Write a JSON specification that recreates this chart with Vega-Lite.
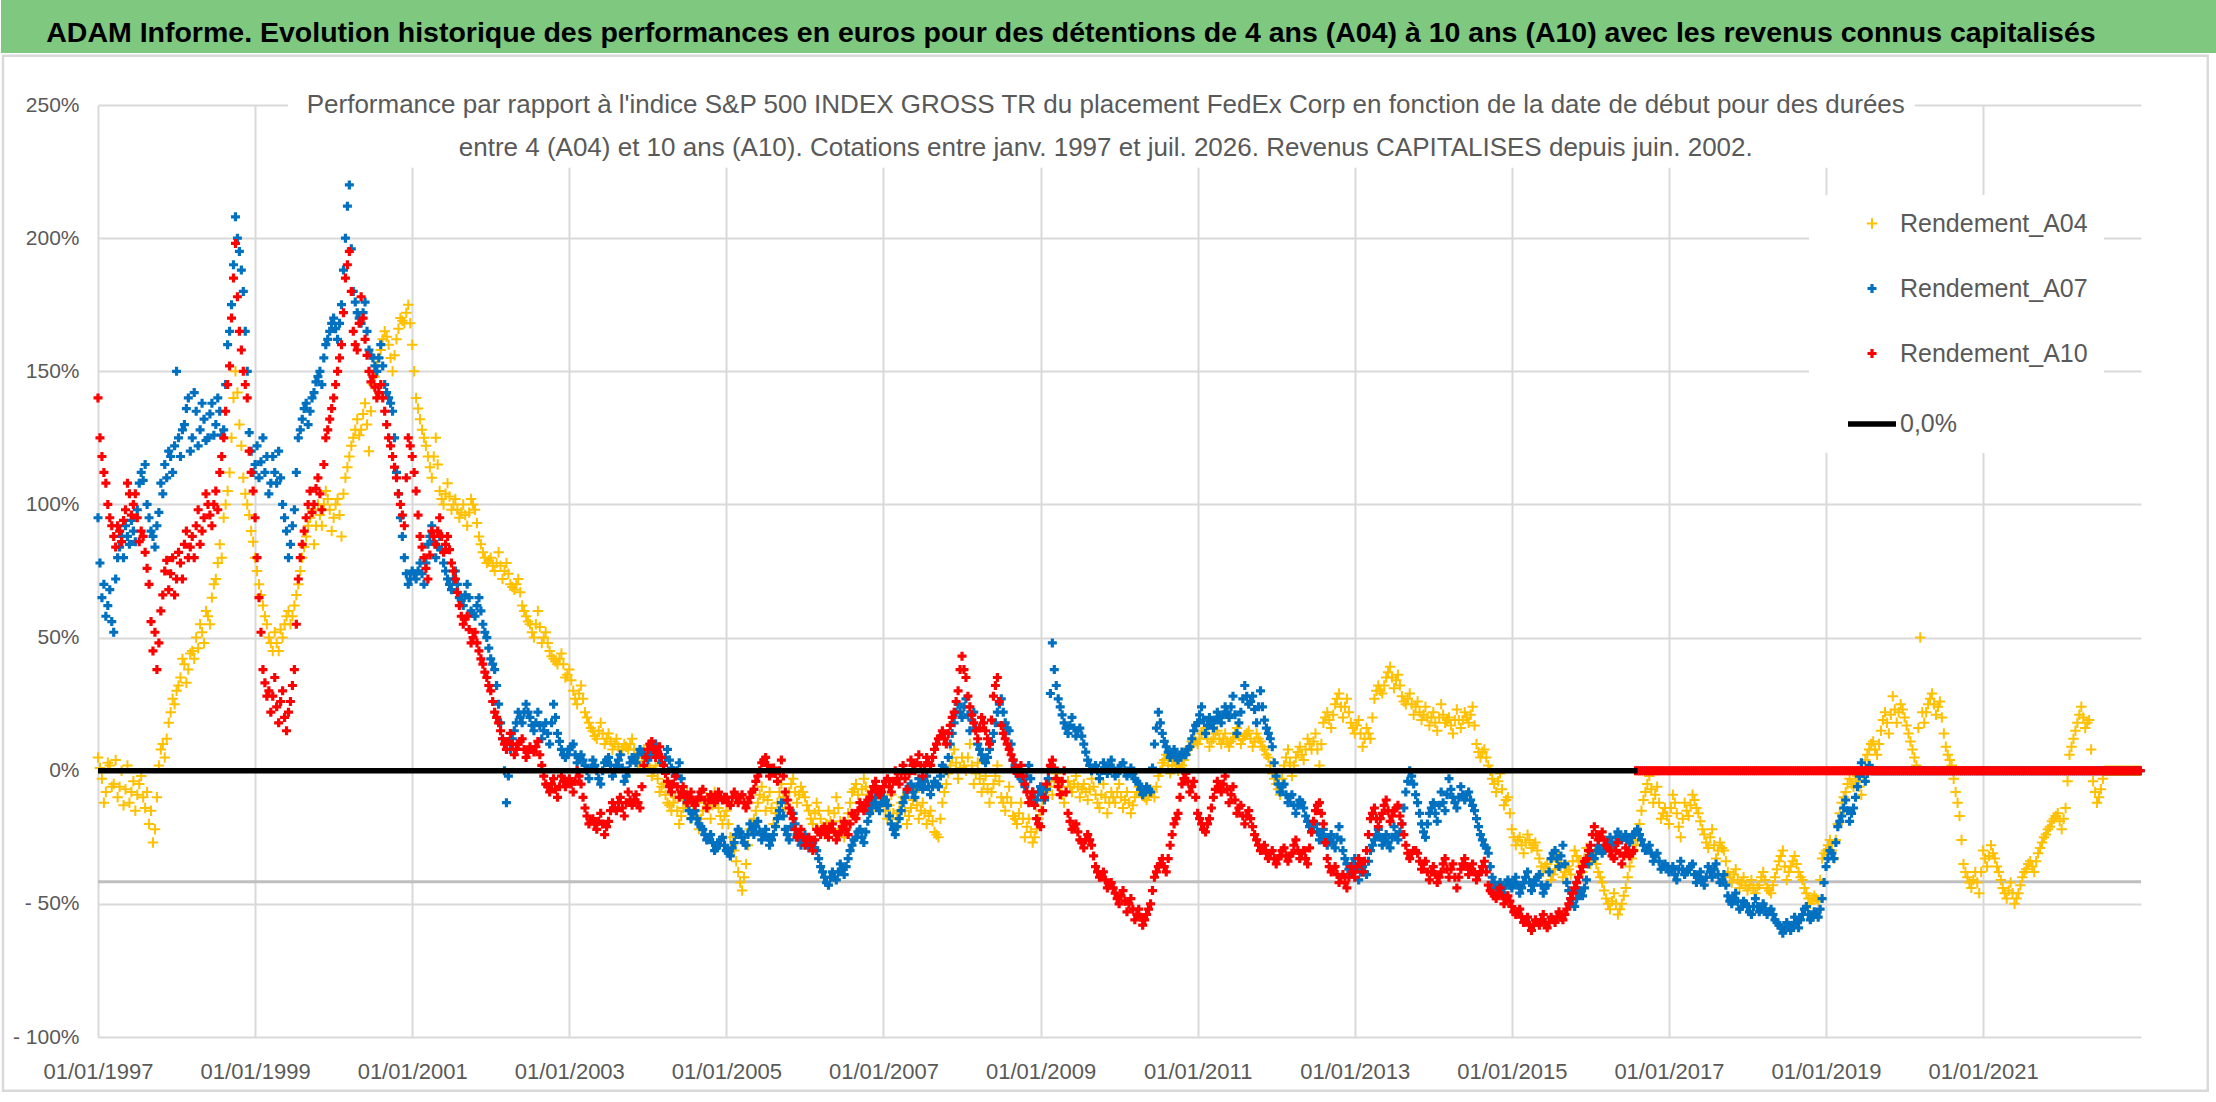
{
  "$schema": "https://vega.github.io/schema/vega-lite/v6.json",
  "width": 2043,
  "height": 932,
  "padding": {"left": 0, "top": 0, "right": 0, "bottom": 9},
  "autosize": {"type": "pad"},
  "background": "#FFFFFF",
  "config": {"view": {"stroke": null}, "font": "Liberation Sans"},
  "layer": [
    {
      "data": {"values": [{}]},
      "mark": {"type": "rect", "fillOpacity": 0, "stroke": "#D9D9D9", "strokeWidth": 2.5},
      "encoding": {
        "x": {"datum": 1995.79, "type": "quantitative"},
        "x2": {"datum": 2023.86},
        "y": {"datum": 268.5, "type": "quantitative"},
        "y2": {"datum": -120.2}
      }
    },
    {
      "data": {"values": [{}]},
      "mark": {"type": "rect", "fill": "#7FC87F"},
      "encoding": {
        "x": {"datum": 1995.765, "type": "quantitative"},
        "x2": {"datum": 2023.98},
        "y": {"datum": 289.43, "type": "quantitative"},
        "y2": {"datum": 269.53}
      }
    },
    {
      "data": {"values": [{}]},
      "mark": {"type": "rect", "fill": "#FFFFFF"},
      "encoding": {
        "x": {"datum": 1999.42, "type": "quantitative"},
        "x2": {"datum": 2020.13},
        "y": {"datum": 258, "type": "quantitative"},
        "y2": {"datum": 226.4}
      }
    },
    {
      "data": {"values": [{}]},
      "mark": {"type": "rule", "color": "#BFBFBF", "strokeWidth": 3},
      "encoding": {"y": {"datum": -41.7, "type": "quantitative"}}
    },
    {
      "data": {
        "values": [
          {"t":1997,"a":5,"b":95,"c":140},{"t":1997.025,"a":1,"b":78,"c":125},
          {"t":1997.05,"a":-3,"b":65,"c":118},{"t":1997.075,"a":-12,"b":70,"c":112},
          {"t":1997.1,"a":-8,"b":58,"c":108},{"t":1997.125,"a":3,"b":62,"c":100},
          {"t":1997.15,"a":2,"b":68,"c":95},{"t":1997.175,"a":-6,"b":56,"c":92},
          {"t":1997.2,"a":-5,"b":52,"c":88},{"t":1997.225,"a":4,"b":72,"c":84},
          {"t":1997.25,"a":-10,"b":80,"c":92},{"t":1997.275,"a":-6,"b":84,"c":90},
          {"t":1997.3,"a":0,"b":88,"c":86},{"t":1997.325,"a":-13,"b":80,"c":94},
          {"t":1997.35,"a":-7,"b":92,"c":98},{"t":1997.375,"a":2,"b":88,"c":108},
          {"t":1997.4,"a":-12,"b":85,"c":104},{"t":1997.425,"a":-8,"b":94,"c":96},
          {"t":1997.45,"a":-4,"b":90,"c":100},{"t":1997.475,"a":-15,"b":86,"c":104},
          {"t":1997.5,"a":-9,"b":98,"c":95},{"t":1997.525,"a":-5,"b":108,"c":86},
          {"t":1997.55,"a":-2,"b":112,"c":90},{"t":1997.575,"a":-10,"b":109,"c":88},
          {"t":1997.6,"a":-14,"b":115,"c":82},{"t":1997.625,"a":-8,"b":100,"c":76},
          {"t":1997.65,"a":-20,"b":95,"c":70},{"t":1997.675,"a":-15,"b":90,"c":56},
          {"t":1997.7,"a":-27,"b":88,"c":45},{"t":1997.725,"a":-22,"b":84,"c":52},
          {"t":1997.75,"a":-10,"b":92,"c":38},{"t":1997.775,"a":2,"b":97,"c":48},
          {"t":1997.8,"a":8,"b":108,"c":60},{"t":1997.825,"a":10,"b":104,"c":66},
          {"t":1997.85,"a":5,"b":115,"c":75},{"t":1997.875,"a":12,"b":110,"c":79},
          {"t":1997.9,"a":18,"b":120,"c":68},{"t":1997.925,"a":22,"b":118,"c":74},
          {"t":1997.95,"a":27,"b":112,"c":80},{"t":1997.975,"a":25,"b":122,"c":66},
          {"t":1998,"a":30,"b":150,"c":72},{"t":1998.025,"a":32,"b":125,"c":82},
          {"t":1998.05,"a":35,"b":118,"c":78},{"t":1998.075,"a":42,"b":128,"c":72},
          {"t":1998.1,"a":40,"b":130,"c":85},{"t":1998.125,"a":33,"b":136,"c":90},
          {"t":1998.15,"a":38,"b":140,"c":80},{"t":1998.175,"a":44,"b":120,"c":84},
          {"t":1998.2,"a":45,"b":125,"c":88},{"t":1998.225,"a":42,"b":142,"c":80},
          {"t":1998.25,"a":50,"b":135,"c":92},{"t":1998.275,"a":46,"b":122,"c":98},
          {"t":1998.3,"a":55,"b":128,"c":85},{"t":1998.325,"a":52,"b":138,"c":90},
          {"t":1998.35,"a":48,"b":132,"c":95},{"t":1998.375,"a":60,"b":124,"c":104},
          {"t":1998.4,"a":58,"b":125,"c":100},{"t":1998.425,"a":55,"b":134,"c":96},
          {"t":1998.45,"a":65,"b":138,"c":92},{"t":1998.475,"a":70,"b":126,"c":100},
          {"t":1998.5,"a":72,"b":130,"c":105},{"t":1998.525,"a":78,"b":140,"c":98},
          {"t":1998.55,"a":85,"b":135,"c":112},{"t":1998.575,"a":80,"b":126,"c":118},
          {"t":1998.6,"a":95,"b":128,"c":125},{"t":1998.625,"a":100,"b":145,"c":135},
          {"t":1998.65,"a":105,"b":160,"c":145},{"t":1998.675,"a":112,"b":165,"c":152},
          {"t":1998.7,"a":125,"b":175,"c":170},{"t":1998.725,"a":140,"b":190,"c":185},
          {"t":1998.75,"a":150,"b":208,"c":198},{"t":1998.775,"a":142,"b":200,"c":178},
          {"t":1998.8,"a":130,"b":195,"c":165},{"t":1998.825,"a":122,"b":188,"c":158},
          {"t":1998.85,"a":110,"b":180,"c":150},{"t":1998.875,"a":104,"b":165,"c":145},
          {"t":1998.9,"a":100,"b":150,"c":140},{"t":1998.925,"a":96,"b":127,"c":120},
          {"t":1998.95,"a":90,"b":120,"c":112},{"t":1998.975,"a":86,"b":112,"c":105},
          {"t":1999,"a":80,"b":115,"c":95},{"t":1999.025,"a":75,"b":122,"c":80},
          {"t":1999.05,"a":70,"b":110,"c":65},{"t":1999.075,"a":66,"b":116,"c":52},
          {"t":1999.1,"a":62,"b":125,"c":38},{"t":1999.125,"a":58,"b":112,"c":33},
          {"t":1999.15,"a":55,"b":118,"c":28},{"t":1999.175,"a":50,"b":104,"c":30},
          {"t":1999.2,"a":48,"b":108,"c":22},{"t":1999.225,"a":45,"b":118,"c":28},
          {"t":1999.25,"a":52,"b":112,"c":35},{"t":1999.275,"a":48,"b":108,"c":24},
          {"t":1999.3,"a":45,"b":120,"c":18},{"t":1999.325,"a":53,"b":110,"c":26},
          {"t":1999.35,"a":50,"b":100,"c":30},{"t":1999.375,"a":55,"b":95,"c":20},
          {"t":1999.4,"a":58,"b":90,"c":15},{"t":1999.425,"a":60,"b":80,"c":22},
          {"t":1999.45,"a":55,"b":85,"c":26},{"t":1999.475,"a":58,"b":92,"c":32},
          {"t":1999.5,"a":62,"b":98,"c":38},{"t":1999.525,"a":66,"b":112,"c":55},
          {"t":1999.55,"a":70,"b":125,"c":72},{"t":1999.575,"a":75,"b":128,"c":80},
          {"t":1999.6,"a":80,"b":132,"c":85},{"t":1999.625,"a":84,"b":136,"c":90},
          {"t":1999.65,"a":88,"b":138,"c":95},{"t":1999.675,"a":92,"b":130,"c":100},
          {"t":1999.7,"a":95,"b":135,"c":105},{"t":1999.725,"a":98,"b":140,"c":97},
          {"t":1999.75,"a":85,"b":142,"c":100},{"t":1999.775,"a":92,"b":146,"c":106},
          {"t":1999.8,"a":100,"b":148,"c":110},{"t":1999.825,"a":96,"b":150,"c":104},
          {"t":1999.85,"a":92,"b":145,"c":98},{"t":1999.875,"a":100,"b":155,"c":115},
          {"t":1999.9,"a":105,"b":160,"c":125},{"t":1999.925,"a":102,"b":162,"c":128},
          {"t":1999.95,"a":98,"b":165,"c":132},{"t":1999.975,"a":90,"b":168,"c":136},
          {"t":2000,"a":95,"b":170,"c":140},{"t":2000.025,"a":100,"b":166,"c":145},
          {"t":2000.05,"a":102,"b":162,"c":150},{"t":2000.075,"a":96,"b":168,"c":155},
          {"t":2000.1,"a":88,"b":175,"c":160},{"t":2000.125,"a":104,"b":188,"c":172},
          {"t":2000.15,"a":110,"b":200,"c":185},{"t":2000.175,"a":114,"b":212,"c":190},
          {"t":2000.2,"a":118,"b":220,"c":195},{"t":2000.225,"a":122,"b":196,"c":180},
          {"t":2000.25,"a":125,"b":180,"c":165},{"t":2000.275,"a":128,"b":176,"c":160},
          {"t":2000.3,"a":132,"b":172,"c":158},{"t":2000.325,"a":126,"b":170,"c":168},
          {"t":2000.35,"a":128,"b":168,"c":178},{"t":2000.375,"a":134,"b":172,"c":170},
          {"t":2000.4,"a":138,"b":176,"c":162},{"t":2000.425,"a":130,"b":165,"c":156},
          {"t":2000.45,"a":120,"b":158,"c":150},{"t":2000.475,"a":135,"b":156,"c":146},
          {"t":2000.5,"a":145,"b":155,"c":148},{"t":2000.525,"a":148,"b":152,"c":144},
          {"t":2000.55,"a":152,"b":150,"c":140},{"t":2000.575,"a":155,"b":155,"c":142},
          {"t":2000.6,"a":158,"b":160,"c":145},{"t":2000.625,"a":162,"b":152,"c":140},
          {"t":2000.65,"a":165,"b":145,"c":135},{"t":2000.675,"a":163,"b":142,"c":130},
          {"t":2000.7,"a":160,"b":140,"c":125},{"t":2000.725,"a":155,"b":138,"c":122},
          {"t":2000.75,"a":150,"b":135,"c":118},{"t":2000.775,"a":156,"b":125,"c":114},
          {"t":2000.8,"a":162,"b":112,"c":110},{"t":2000.825,"a":166,"b":104,"c":104},
          {"t":2000.85,"a":170,"b":95,"c":100},{"t":2000.875,"a":169,"b":88,"c":96},
          {"t":2000.9,"a":168,"b":80,"c":92},{"t":2000.925,"a":172,"b":74,"c":110},
          {"t":2000.95,"a":175,"b":70,"c":125},{"t":2000.975,"a":168,"b":72,"c":122},
          {"t":2001,"a":160,"b":75,"c":118},{"t":2001.025,"a":150,"b":74,"c":112},
          {"t":2001.05,"a":140,"b":72,"c":105},{"t":2001.075,"a":136,"b":75,"c":96},
          {"t":2001.1,"a":132,"b":78,"c":88},{"t":2001.125,"a":128,"b":74,"c":84},
          {"t":2001.15,"a":125,"b":70,"c":80},{"t":2001.175,"a":122,"b":78,"c":76},
          {"t":2001.2,"a":118,"b":85,"c":72},{"t":2001.225,"a":114,"b":88,"c":81},
          {"t":2001.25,"a":110,"b":92,"c":90},{"t":2001.275,"a":118,"b":86,"c":88},
          {"t":2001.3,"a":125,"b":80,"c":85},{"t":2001.325,"a":115,"b":84,"c":90},
          {"t":2001.35,"a":105,"b":88,"c":95},{"t":2001.375,"a":102,"b":83,"c":88},
          {"t":2001.4,"a":100,"b":78,"c":82},{"t":2001.425,"a":104,"b":75,"c":85},
          {"t":2001.45,"a":108,"b":72,"c":88},{"t":2001.475,"a":103,"b":70,"c":83},
          {"t":2001.5,"a":98,"b":68,"c":78},{"t":2001.525,"a":100,"b":72,"c":75},
          {"t":2001.55,"a":102,"b":75,"c":72},{"t":2001.575,"a":98,"b":70,"c":67},
          {"t":2001.6,"a":95,"b":65,"c":62},{"t":2001.625,"a":97,"b":64,"c":58},
          {"t":2001.65,"a":100,"b":62,"c":55},{"t":2001.675,"a":96,"b":66,"c":57},
          {"t":2001.7,"a":92,"b":70,"c":58},{"t":2001.725,"a":97,"b":65,"c":53},
          {"t":2001.75,"a":102,"b":60,"c":48},{"t":2001.775,"a":100,"b":59,"c":50},
          {"t":2001.8,"a":98,"b":58,"c":52},{"t":2001.825,"a":93,"b":62,"c":48},
          {"t":2001.85,"a":88,"b":65,"c":45},{"t":2001.875,"a":85,"b":60,"c":42},
          {"t":2001.9,"a":82,"b":55,"c":40},{"t":2001.925,"a":80,"b":52,"c":37},
          {"t":2001.95,"a":78,"b":50,"c":35},{"t":2001.975,"a":79,"b":46,"c":32},
          {"t":2002,"a":80,"b":42,"c":30},{"t":2002.025,"a":77,"b":40,"c":26},
          {"t":2002.05,"a":75,"b":38,"c":22},{"t":2002.075,"a":78,"b":32,"c":20},
          {"t":2002.1,"a":82,"b":25,"c":18},{"t":2002.125,"a":77,"b":18,"c":15},
          {"t":2002.15,"a":72,"b":12,"c":12},{"t":2002.175,"a":75,"b":0,"c":10},
          {"t":2002.2,"a":78,"b":-12,"c":8},{"t":2002.225,"a":74,"b":-2,"c":11},
          {"t":2002.25,"a":70,"b":8,"c":14},{"t":2002.275,"a":69,"b":12,"c":10},
          {"t":2002.3,"a":68,"b":15,"c":6},{"t":2002.325,"a":70,"b":18,"c":8},
          {"t":2002.35,"a":72,"b":22,"c":10},{"t":2002.375,"a":67,"b":20,"c":11},
          {"t":2002.4,"a":62,"b":18,"c":12},{"t":2002.425,"a":60,"b":22,"c":8},
          {"t":2002.45,"a":58,"b":25,"c":5},{"t":2002.475,"a":56,"b":22,"c":7},
          {"t":2002.5,"a":55,"b":20,"c":9},{"t":2002.525,"a":52,"b":17,"c":8},
          {"t":2002.55,"a":50,"b":15,"c":7},{"t":2002.575,"a":55,"b":18,"c":9},
          {"t":2002.6,"a":60,"b":22,"c":11},{"t":2002.625,"a":54,"b":17,"c":6},
          {"t":2002.65,"a":48,"b":12,"c":2},{"t":2002.675,"a":50,"b":15,"c":-2},
          {"t":2002.7,"a":52,"b":18,"c":-5},{"t":2002.725,"a":48,"b":14,"c":-6},
          {"t":2002.75,"a":45,"b":10,"c":-8},{"t":2002.775,"a":43,"b":18,"c":-5},
          {"t":2002.8,"a":42,"b":25,"c":-3},{"t":2002.825,"a":41,"b":20,"c":-7},
          {"t":2002.85,"a":40,"b":14,"c":-10},{"t":2002.875,"a":42,"b":11,"c":-6},
          {"t":2002.9,"a":44,"b":8,"c":-2},{"t":2002.925,"a":40,"b":6,"c":-4},
          {"t":2002.95,"a":35,"b":5,"c":-6},{"t":2002.975,"a":36,"b":6,"c":-4},
          {"t":2003,"a":38,"b":8,"c":-3},{"t":2003.025,"a":34,"b":9,"c":-5},
          {"t":2003.05,"a":30,"b":10,"c":-8},{"t":2003.075,"a":27,"b":6,"c":-4},
          {"t":2003.1,"a":25,"b":3,"c":0},{"t":2003.125,"a":29,"b":5,"c":-2},
          {"t":2003.15,"a":32,"b":6,"c":-5},{"t":2003.175,"a":27,"b":4,"c":-10},
          {"t":2003.2,"a":22,"b":2,"c":-14},{"t":2003.225,"a":20,"b":0,"c":-17},
          {"t":2003.25,"a":18,"b":-3,"c":-20},{"t":2003.275,"a":16,"b":1,"c":-19},
          {"t":2003.3,"a":15,"b":4,"c":-18},{"t":2003.325,"a":13,"b":2,"c":-20},
          {"t":2003.35,"a":12,"b":0,"c":-22},{"t":2003.375,"a":15,"b":-3,"c":-19},
          {"t":2003.4,"a":18,"b":-5,"c":-16},{"t":2003.425,"a":14,"b":0,"c":-20},
          {"t":2003.45,"a":10,"b":3,"c":-24},{"t":2003.475,"a":12,"b":4,"c":-21},
          {"t":2003.5,"a":14,"b":5,"c":-19},{"t":2003.525,"a":11,"b":2,"c":-15},
          {"t":2003.55,"a":8,"b":-2,"c":-12},{"t":2003.575,"a":10,"b":0,"c":-14},
          {"t":2003.6,"a":12,"b":2,"c":-15},{"t":2003.625,"a":9,"b":4,"c":-12},
          {"t":2003.65,"a":6,"b":6,"c":-10},{"t":2003.675,"a":8,"b":1,"c":-14},
          {"t":2003.7,"a":10,"b":-4,"c":-17},{"t":2003.725,"a":9,"b":-2,"c":-12},
          {"t":2003.75,"a":8,"b":0,"c":-8},{"t":2003.775,"a":10,"b":3,"c":-11},
          {"t":2003.8,"a":12,"b":5,"c":-13},{"t":2003.825,"a":8,"b":4,"c":-11},
          {"t":2003.85,"a":5,"b":3,"c":-9},{"t":2003.875,"a":3,"b":6,"c":-12},
          {"t":2003.9,"a":2,"b":8,"c":-14},{"t":2003.925,"a":5,"b":7,"c":-6},
          {"t":2003.95,"a":8,"b":6,"c":2},{"t":2003.975,"a":6,"b":5,"c":5},
          {"t":2004,"a":5,"b":4,"c":8},{"t":2004.025,"a":1,"b":6,"c":10},
          {"t":2004.05,"a":-2,"b":8,"c":11},{"t":2004.075,"a":0,"b":9,"c":8},
          {"t":2004.1,"a":2,"b":10,"c":5},{"t":2004.125,"a":-3,"b":7,"c":7},
          {"t":2004.15,"a":-8,"b":5,"c":9},{"t":2004.175,"a":-6,"b":3,"c":5},
          {"t":2004.2,"a":-5,"b":2,"c":2},{"t":2004.225,"a":-9,"b":5,"c":-1},
          {"t":2004.25,"a":-12,"b":8,"c":-4},{"t":2004.275,"a":-13,"b":4,"c":-6},
          {"t":2004.3,"a":-15,"b":1,"c":-8},{"t":2004.325,"a":-12,"b":0,"c":-5},
          {"t":2004.35,"a":-10,"b":-2,"c":-2},{"t":2004.375,"a":-15,"b":0,"c":-6},
          {"t":2004.4,"a":-20,"b":3,"c":-10},{"t":2004.425,"a":-17,"b":-3,"c":-8},
          {"t":2004.45,"a":-14,"b":-8,"c":-6},{"t":2004.475,"a":-11,"b":-10,"c":-9},
          {"t":2004.5,"a":-8,"b":-12,"c":-12},{"t":2004.525,"a":-13,"b":-15,"c":-10},
          {"t":2004.55,"a":-18,"b":-18,"c":-8},{"t":2004.575,"a":-15,"b":-16,"c":-11},
          {"t":2004.6,"a":-12,"b":-15,"c":-13},{"t":2004.625,"a":-17,"b":-18,"c":-11},
          {"t":2004.65,"a":-22,"b":-20,"c":-10},{"t":2004.675,"a":-18,"b":-21,"c":-8},
          {"t":2004.7,"a":-15,"b":-22,"c":-7},{"t":2004.725,"a":-12,"b":-24,"c":-11},
          {"t":2004.75,"a":-10,"b":-26,"c":-14},{"t":2004.775,"a":-14,"b":-25,"c":-11},
          {"t":2004.8,"a":-18,"b":-24,"c":-9},{"t":2004.825,"a":-13,"b":-27,"c":-10},
          {"t":2004.85,"a":-8,"b":-30,"c":-12},{"t":2004.875,"a":-11,"b":-29,"c":-10},
          {"t":2004.9,"a":-14,"b":-28,"c":-8},{"t":2004.925,"a":-17,"b":-26,"c":-10},
          {"t":2004.95,"a":-20,"b":-25,"c":-11},{"t":2004.975,"a":-17,"b":-28,"c":-10},
          {"t":2005,"a":-15,"b":-30,"c":-10},{"t":2005.025,"a":-20,"b":-31,"c":-12},
          {"t":2005.05,"a":-25,"b":-32,"c":-13},{"t":2005.075,"a":-28,"b":-29,"c":-10},
          {"t":2005.1,"a":-30,"b":-27,"c":-8},{"t":2005.125,"a":-34,"b":-24,"c":-10},
          {"t":2005.15,"a":-38,"b":-22,"c":-12},{"t":2005.175,"a":-42,"b":-23,"c":-10},
          {"t":2005.2,"a":-45,"b":-25,"c":-9},{"t":2005.225,"a":-40,"b":-27,"c":-12},
          {"t":2005.25,"a":-35,"b":-28,"c":-14},{"t":2005.275,"a":-28,"b":-24,"c":-12},
          {"t":2005.3,"a":-22,"b":-20,"c":-10},{"t":2005.325,"a":-20,"b":-22,"c":-8},
          {"t":2005.35,"a":-18,"b":-24,"c":-7},{"t":2005.375,"a":-15,"b":-21,"c":-4},
          {"t":2005.4,"a":-12,"b":-19,"c":-2},{"t":2005.425,"a":-9,"b":-23,"c":0},
          {"t":2005.45,"a":-6,"b":-26,"c":3},{"t":2005.475,"a":-10,"b":-24,"c":4},
          {"t":2005.5,"a":-15,"b":-22,"c":5},{"t":2005.525,"a":-11,"b":-25,"c":2},
          {"t":2005.55,"a":-8,"b":-28,"c":-2},{"t":2005.575,"a":-14,"b":-26,"c":0},
          {"t":2005.6,"a":-20,"b":-24,"c":1},{"t":2005.625,"a":-16,"b":-21,"c":-1},
          {"t":2005.65,"a":-12,"b":-18,"c":-4},{"t":2005.675,"a":-8,"b":-15,"c":0},
          {"t":2005.7,"a":-5,"b":-12,"c":4},{"t":2005.725,"a":-10,"b":-17,"c":-2},
          {"t":2005.75,"a":-14,"b":-22,"c":-8},{"t":2005.775,"a":-11,"b":-24,"c":-11},
          {"t":2005.8,"a":-8,"b":-26,"c":-14},{"t":2005.825,"a":-5,"b":-21,"c":-16},
          {"t":2005.85,"a":-3,"b":-16,"c":-18},{"t":2005.875,"a":-8,"b":-20,"c":-22},
          {"t":2005.9,"a":-12,"b":-24,"c":-25},{"t":2005.925,"a":-9,"b":-26,"c":-24},
          {"t":2005.95,"a":-6,"b":-28,"c":-22},{"t":2005.975,"a":-8,"b":-26,"c":-25},
          {"t":2006,"a":-10,"b":-24,"c":-28},{"t":2006.025,"a":-13,"b":-27,"c":-26},
          {"t":2006.05,"a":-15,"b":-29,"c":-25},{"t":2006.075,"a":-18,"b":-28,"c":-28},
          {"t":2006.1,"a":-20,"b":-27,"c":-30},{"t":2006.125,"a":-16,"b":-29,"c":-26},
          {"t":2006.15,"a":-12,"b":-30,"c":-22},{"t":2006.175,"a":-15,"b":-33,"c":-23},
          {"t":2006.2,"a":-18,"b":-36,"c":-24},{"t":2006.225,"a":-21,"b":-38,"c":-22},
          {"t":2006.25,"a":-24,"b":-40,"c":-21},{"t":2006.275,"a":-20,"b":-42,"c":-23},
          {"t":2006.3,"a":-15,"b":-43,"c":-25},{"t":2006.325,"a":-19,"b":-40,"c":-22},
          {"t":2006.35,"a":-22,"b":-38,"c":-20},{"t":2006.375,"a":-16,"b":-40,"c":-23},
          {"t":2006.4,"a":-10,"b":-41,"c":-26},{"t":2006.425,"a":-14,"b":-38,"c":-24},
          {"t":2006.45,"a":-19,"b":-35,"c":-23},{"t":2006.475,"a":-22,"b":-37,"c":-21},
          {"t":2006.5,"a":-25,"b":-39,"c":-19},{"t":2006.525,"a":-20,"b":-36,"c":-22},
          {"t":2006.55,"a":-16,"b":-33,"c":-24},{"t":2006.575,"a":-12,"b":-30,"c":-20},
          {"t":2006.6,"a":-8,"b":-28,"c":-16},{"t":2006.625,"a":-7,"b":-26,"c":-17},
          {"t":2006.65,"a":-5,"b":-25,"c":-18},{"t":2006.675,"a":-9,"b":-23,"c":-15},
          {"t":2006.7,"a":-12,"b":-22,"c":-12},{"t":2006.725,"a":-7,"b":-25,"c":-14},
          {"t":2006.75,"a":-3,"b":-27,"c":-15},{"t":2006.775,"a":-6,"b":-23,"c":-13},
          {"t":2006.8,"a":-9,"b":-19,"c":-11},{"t":2006.825,"a":-12,"b":-16,"c":-10},
          {"t":2006.85,"a":-15,"b":-14,"c":-8},{"t":2006.875,"a":-10,"b":-12,"c":-6},
          {"t":2006.9,"a":-6,"b":-10,"c":-4},{"t":2006.925,"a":-9,"b":-13,"c":-7},
          {"t":2006.95,"a":-12,"b":-15,"c":-9},{"t":2006.975,"a":-12,"b":-12,"c":-8},
          {"t":2007,"a":-12,"b":-10,"c":-6},{"t":2007.025,"a":-15,"b":-11,"c":-4},
          {"t":2007.05,"a":-18,"b":-13,"c":-3},{"t":2007.075,"a":-13,"b":-17,"c":-6},
          {"t":2007.1,"a":-9,"b":-20,"c":-8},{"t":2007.125,"a":-16,"b":-22,"c":-4},
          {"t":2007.15,"a":-22,"b":-24,"c":0},{"t":2007.175,"a":-18,"b":-21,"c":-3},
          {"t":2007.2,"a":-15,"b":-18,"c":-5},{"t":2007.225,"a":-12,"b":-15,"c":-1},
          {"t":2007.25,"a":-10,"b":-12,"c":2},{"t":2007.275,"a":-15,"b":-10,"c":-3},
          {"t":2007.3,"a":-20,"b":-8,"c":-7},{"t":2007.325,"a":-17,"b":-6,"c":-1},
          {"t":2007.35,"a":-14,"b":-5,"c":4},{"t":2007.375,"a":-11,"b":-8,"c":2},
          {"t":2007.4,"a":-8,"b":-10,"c":0},{"t":2007.425,"a":-13,"b":-6,"c":3},
          {"t":2007.45,"a":-18,"b":-3,"c":6},{"t":2007.475,"a":-15,"b":-5,"c":2},
          {"t":2007.5,"a":-12,"b":-7,"c":-2},{"t":2007.525,"a":-16,"b":-4,"c":2},
          {"t":2007.55,"a":-20,"b":-2,"c":5},{"t":2007.575,"a":-17,"b":-6,"c":3},
          {"t":2007.6,"a":-15,"b":-9,"c":2},{"t":2007.625,"a":-19,"b":-6,"c":5},
          {"t":2007.65,"a":-23,"b":-4,"c":8},{"t":2007.675,"a":-24,"b":-5,"c":10},
          {"t":2007.7,"a":-25,"b":-6,"c":12},{"t":2007.725,"a":-18,"b":-2,"c":13},
          {"t":2007.75,"a":-12,"b":2,"c":15},{"t":2007.775,"a":-8,"b":1,"c":12},
          {"t":2007.8,"a":-5,"b":0,"c":10},{"t":2007.825,"a":-1,"b":5,"c":14},
          {"t":2007.85,"a":2,"b":10,"c":17},{"t":2007.875,"a":5,"b":14,"c":20},
          {"t":2007.9,"a":8,"b":18,"c":22},{"t":2007.925,"a":3,"b":22,"c":26},
          {"t":2007.95,"a":-3,"b":25,"c":30},{"t":2007.975,"a":1,"b":22,"c":38},
          {"t":2008,"a":5,"b":20,"c":43},{"t":2008.025,"a":2,"b":24,"c":38},
          {"t":2008.05,"a":0,"b":27,"c":35},{"t":2008.075,"a":5,"b":21,"c":28},
          {"t":2008.1,"a":10,"b":15,"c":24},{"t":2008.125,"a":2,"b":19,"c":21},
          {"t":2008.15,"a":-5,"b":22,"c":18},{"t":2008.175,"a":-1,"b":16,"c":15},
          {"t":2008.2,"a":3,"b":10,"c":12},{"t":2008.225,"a":-3,"b":8,"c":16},
          {"t":2008.25,"a":-8,"b":6,"c":20},{"t":2008.275,"a":-5,"b":4,"c":18},
          {"t":2008.3,"a":-2,"b":3,"c":15},{"t":2008.325,"a":-7,"b":5,"c":12},
          {"t":2008.35,"a":-12,"b":8,"c":10},{"t":2008.375,"a":-8,"b":11,"c":19},
          {"t":2008.4,"a":-5,"b":14,"c":28},{"t":2008.425,"a":-2,"b":18,"c":32},
          {"t":2008.45,"a":2,"b":22,"c":35},{"t":2008.475,"a":-4,"b":25,"c":26},
          {"t":2008.5,"a":-10,"b":27,"c":17},{"t":2008.525,"a":-12,"b":22,"c":14},
          {"t":2008.55,"a":-15,"b":18,"c":12},{"t":2008.575,"a":-10,"b":16,"c":10},
          {"t":2008.6,"a":-6,"b":15,"c":8},{"t":2008.625,"a":-12,"b":10,"c":6},
          {"t":2008.65,"a":-17,"b":4,"c":4},{"t":2008.675,"a":-18,"b":2,"c":1},
          {"t":2008.7,"a":-20,"b":0,"c":-1},{"t":2008.725,"a":-16,"b":-2,"c":0},
          {"t":2008.75,"a":-12,"b":-3,"c":2},{"t":2008.775,"a":-18,"b":-4,"c":-2},
          {"t":2008.8,"a":-25,"b":-6,"c":-5},{"t":2008.825,"a":-21,"b":-2,"c":-8},
          {"t":2008.85,"a":-18,"b":2,"c":-12},{"t":2008.875,"a":-23,"b":-3,"c":-10},
          {"t":2008.9,"a":-27,"b":-8,"c":-8},{"t":2008.925,"a":-25,"b":-10,"c":-13},
          {"t":2008.95,"a":-22,"b":-11,"c":-18},{"t":2008.975,"a":-18,"b":-8,"c":-20},
          {"t":2009,"a":-15,"b":-6,"c":-21},{"t":2009.025,"a":-11,"b":-9,"c":-15},
          {"t":2009.05,"a":-8,"b":-11,"c":-10},{"t":2009.075,"a":-5,"b":-7,"c":-5},
          {"t":2009.1,"a":-3,"b":-3,"c":0},{"t":2009.125,"a":-6,"b":29,"c":2},
          {"t":2009.15,"a":-9,"b":48,"c":4},{"t":2009.175,"a":-4,"b":38,"c":1},
          {"t":2009.2,"a":-1,"b":32,"c":-3},{"t":2009.225,"a":-4,"b":27,"c":-6},
          {"t":2009.25,"a":-6,"b":24,"c":-9},{"t":2009.275,"a":-9,"b":21,"c":-4},
          {"t":2009.3,"a":-12,"b":18,"c":0},{"t":2009.325,"a":-8,"b":16,"c":-8},
          {"t":2009.35,"a":-4,"b":14,"c":-16},{"t":2009.375,"a":-6,"b":17,"c":-19},
          {"t":2009.4,"a":-8,"b":20,"c":-22},{"t":2009.425,"a":-5,"b":16,"c":-21},
          {"t":2009.45,"a":-2,"b":13,"c":-20},{"t":2009.475,"a":-6,"b":15,"c":-23},
          {"t":2009.5,"a":-10,"b":16,"c":-26},{"t":2009.525,"a":-7,"b":13,"c":-27},
          {"t":2009.55,"a":-5,"b":10,"c":-29},{"t":2009.575,"a":-8,"b":7,"c":-26},
          {"t":2009.6,"a":-11,"b":4,"c":-24},{"t":2009.625,"a":-7,"b":2,"c":-26},
          {"t":2009.65,"a":-3,"b":0,"c":-28},{"t":2009.675,"a":-6,"b":1,"c":-32},
          {"t":2009.7,"a":-9,"b":2,"c":-36},{"t":2009.725,"a":-12,"b":0,"c":-38},
          {"t":2009.75,"a":-14,"b":-3,"c":-40},{"t":2009.775,"a":-9,"b":0,"c":-39},
          {"t":2009.8,"a":-5,"b":3,"c":-38},{"t":2009.825,"a":-10,"b":1,"c":-41},
          {"t":2009.85,"a":-16,"b":-1,"c":-44},{"t":2009.875,"a":-12,"b":2,"c":-43},
          {"t":2009.9,"a":-8,"b":4,"c":-42},{"t":2009.925,"a":-10,"b":1,"c":-44},
          {"t":2009.95,"a":-12,"b":-2,"c":-46},{"t":2009.975,"a":-8,"b":-1,"c":-48},
          {"t":2010,"a":-5,"b":0,"c":-50},{"t":2010.025,"a":-10,"b":2,"c":-47},
          {"t":2010.05,"a":-14,"b":3,"c":-45},{"t":2010.075,"a":-11,"b":0,"c":-49},
          {"t":2010.1,"a":-8,"b":-2,"c":-53},{"t":2010.125,"a":-12,"b":-1,"c":-50},
          {"t":2010.15,"a":-16,"b":1,"c":-48},{"t":2010.175,"a":-13,"b":-1,"c":-52},
          {"t":2010.2,"a":-10,"b":-3,"c":-56},{"t":2010.225,"a":-8,"b":-4,"c":-54},
          {"t":2010.25,"a":-6,"b":-5,"c":-52},{"t":2010.275,"a":-8,"b":-7,"c":-55},
          {"t":2010.3,"a":-9,"b":-9,"c":-58},{"t":2010.325,"a":-10,"b":-8,"c":-56},
          {"t":2010.35,"a":-11,"b":-6,"c":-54},{"t":2010.375,"a":-9,"b":-7,"c":-52},
          {"t":2010.4,"a":-7,"b":-8,"c":-50},{"t":2010.425,"a":-8,"b":1,"c":-45},
          {"t":2010.45,"a":-10,"b":10,"c":-40},{"t":2010.475,"a":-6,"b":16,"c":-38},
          {"t":2010.5,"a":-2,"b":22,"c":-36},{"t":2010.525,"a":0,"b":18,"c":-35},
          {"t":2010.55,"a":3,"b":14,"c":-33},{"t":2010.575,"a":4,"b":11,"c":-36},
          {"t":2010.6,"a":6,"b":9,"c":-38},{"t":2010.625,"a":2,"b":7,"c":-33},
          {"t":2010.65,"a":-1,"b":5,"c":-28},{"t":2010.675,"a":2,"b":6,"c":-24},
          {"t":2010.7,"a":4,"b":8,"c":-20},{"t":2010.725,"a":2,"b":6,"c":-18},
          {"t":2010.75,"a":0,"b":4,"c":-16},{"t":2010.775,"a":1,"b":5,"c":-10},
          {"t":2010.8,"a":2,"b":7,"c":-5},{"t":2010.825,"a":4,"b":6,"c":-3},
          {"t":2010.85,"a":6,"b":6,"c":-1},{"t":2010.875,"a":8,"b":8,"c":-4},
          {"t":2010.9,"a":9,"b":9,"c":-8},{"t":2010.925,"a":11,"b":12,"c":-6},
          {"t":2010.95,"a":12,"b":15,"c":-4},{"t":2010.975,"a":11,"b":17,"c":-10},
          {"t":2011,"a":10,"b":18,"c":-16},{"t":2011.025,"a":12,"b":21,"c":-18},
          {"t":2011.05,"a":14,"b":24,"c":-20},{"t":2011.075,"a":15,"b":19,"c":-22},
          {"t":2011.1,"a":16,"b":14,"c":-23},{"t":2011.125,"a":12,"b":17,"c":-20},
          {"t":2011.15,"a":9,"b":20,"c":-18},{"t":2011.175,"a":11,"b":18,"c":-14},
          {"t":2011.2,"a":12,"b":16,"c":-10},{"t":2011.225,"a":14,"b":19,"c":-7},
          {"t":2011.25,"a":15,"b":22,"c":-4},{"t":2011.275,"a":12,"b":20,"c":-6},
          {"t":2011.3,"a":10,"b":18,"c":-8},{"t":2011.325,"a":12,"b":21,"c":-5},
          {"t":2011.35,"a":14,"b":24,"c":-2},{"t":2011.375,"a":11,"b":22,"c":-7},
          {"t":2011.4,"a":9,"b":20,"c":-12},{"t":2011.425,"a":11,"b":24,"c":-9},
          {"t":2011.45,"a":12,"b":28,"c":-6},{"t":2011.475,"a":14,"b":21,"c":-11},
          {"t":2011.5,"a":16,"b":14,"c":-16},{"t":2011.525,"a":13,"b":18,"c":-14},
          {"t":2011.55,"a":10,"b":22,"c":-13},{"t":2011.575,"a":12,"b":27,"c":-17},
          {"t":2011.6,"a":13,"b":32,"c":-20},{"t":2011.625,"a":14,"b":28,"c":-17},
          {"t":2011.65,"a":15,"b":25,"c":-15},{"t":2011.675,"a":12,"b":26,"c":-18},
          {"t":2011.7,"a":9,"b":28,"c":-21},{"t":2011.725,"a":11,"b":23,"c":-24},
          {"t":2011.75,"a":14,"b":18,"c":-26},{"t":2011.775,"a":12,"b":24,"c":-28},
          {"t":2011.8,"a":11,"b":30,"c":-30},{"t":2011.825,"a":9,"b":24,"c":-29},
          {"t":2011.85,"a":8,"b":19,"c":-28},{"t":2011.875,"a":6,"b":16,"c":-31},
          {"t":2011.9,"a":5,"b":14,"c":-33},{"t":2011.925,"a":2,"b":12,"c":-31},
          {"t":2011.95,"a":-1,"b":9,"c":-30},{"t":2011.975,"a":-3,"b":3,"c":-33},
          {"t":2012,"a":-5,"b":-2,"c":-35},{"t":2012.025,"a":-7,"b":-5,"c":-33},
          {"t":2012.05,"a":-9,"b":-8,"c":-32},{"t":2012.075,"a":-3,"b":-6,"c":-30},
          {"t":2012.1,"a":2,"b":-5,"c":-29},{"t":2012.125,"a":5,"b":-9,"c":-32},
          {"t":2012.15,"a":8,"b":-12,"c":-34},{"t":2012.175,"a":3,"b":-10,"c":-32},
          {"t":2012.2,"a":-2,"b":-9,"c":-31},{"t":2012.225,"a":2,"b":-13,"c":-28},
          {"t":2012.25,"a":5,"b":-16,"c":-26},{"t":2012.275,"a":7,"b":-13,"c":-30},
          {"t":2012.3,"a":9,"b":-11,"c":-33},{"t":2012.325,"a":6,"b":-12,"c":-31},
          {"t":2012.35,"a":4,"b":-14,"c":-30},{"t":2012.375,"a":8,"b":-17,"c":-33},
          {"t":2012.4,"a":12,"b":-19,"c":-35},{"t":2012.425,"a":10,"b":-21,"c":-29},
          {"t":2012.45,"a":8,"b":-23,"c":-23},{"t":2012.475,"a":11,"b":-21,"c":-19},
          {"t":2012.5,"a":14,"b":-20,"c":-15},{"t":2012.525,"a":8,"b":-23,"c":-13},
          {"t":2012.55,"a":2,"b":-26,"c":-12},{"t":2012.575,"a":10,"b":-24,"c":-16},
          {"t":2012.6,"a":18,"b":-22,"c":-20},{"t":2012.625,"a":20,"b":-25,"c":-27},
          {"t":2012.65,"a":22,"b":-28,"c":-33},{"t":2012.675,"a":19,"b":-26,"c":-36},
          {"t":2012.7,"a":16,"b":-24,"c":-38},{"t":2012.725,"a":21,"b":-27,"c":-37},
          {"t":2012.75,"a":25,"b":-29,"c":-36},{"t":2012.775,"a":27,"b":-25,"c":-39},
          {"t":2012.8,"a":29,"b":-21,"c":-42},{"t":2012.825,"a":24,"b":-26,"c":-40},
          {"t":2012.85,"a":20,"b":-30,"c":-39},{"t":2012.875,"a":24,"b":-33,"c":-42},
          {"t":2012.9,"a":27,"b":-35,"c":-44},{"t":2012.925,"a":22,"b":-37,"c":-40},
          {"t":2012.95,"a":18,"b":-38,"c":-36},{"t":2012.975,"a":16,"b":-35,"c":-38},
          {"t":2013,"a":14,"b":-33,"c":-40},{"t":2013.025,"a":17,"b":-37,"c":-36},
          {"t":2013.05,"a":19,"b":-41,"c":-33},{"t":2013.075,"a":14,"b":-38,"c":-35},
          {"t":2013.1,"a":9,"b":-36,"c":-38},{"t":2013.125,"a":12,"b":-38,"c":-34},
          {"t":2013.15,"a":16,"b":-39,"c":-30},{"t":2013.175,"a":14,"b":-34,"c":-24},
          {"t":2013.2,"a":12,"b":-30,"c":-18},{"t":2013.225,"a":20,"b":-28,"c":-16},
          {"t":2013.25,"a":27,"b":-26,"c":-14},{"t":2013.275,"a":30,"b":-24,"c":-18},
          {"t":2013.3,"a":32,"b":-22,"c":-21},{"t":2013.325,"a":30,"b":-25,"c":-18},
          {"t":2013.35,"a":29,"b":-28,"c":-16},{"t":2013.375,"a":32,"b":-26,"c":-13},
          {"t":2013.4,"a":35,"b":-24,"c":-11},{"t":2013.425,"a":37,"b":-27,"c":-15},
          {"t":2013.45,"a":39,"b":-29,"c":-19},{"t":2013.475,"a":35,"b":-25,"c":-17},
          {"t":2013.5,"a":31,"b":-21,"c":-15},{"t":2013.525,"a":34,"b":-24,"c":-14},
          {"t":2013.55,"a":36,"b":-26,"c":-13},{"t":2013.575,"a":32,"b":-23,"c":-17},
          {"t":2013.6,"a":28,"b":-20,"c":-20},{"t":2013.625,"a":26,"b":-14,"c":-24},
          {"t":2013.65,"a":25,"b":-8,"c":-28},{"t":2013.675,"a":27,"b":-4,"c":-31},
          {"t":2013.7,"a":29,"b":0,"c":-33},{"t":2013.725,"a":25,"b":-2,"c":-31},
          {"t":2013.75,"a":21,"b":-5,"c":-30},{"t":2013.775,"a":24,"b":-9,"c":-30},
          {"t":2013.8,"a":26,"b":-12,"c":-31},{"t":2013.825,"a":22,"b":-16,"c":-34},
          {"t":2013.85,"a":19,"b":-20,"c":-37},{"t":2013.875,"a":21,"b":-23,"c":-35},
          {"t":2013.9,"a":24,"b":-25,"c":-34},{"t":2013.925,"a":20,"b":-20,"c":-38},
          {"t":2013.95,"a":17,"b":-16,"c":-41},{"t":2013.975,"a":20,"b":-14,"c":-38},
          {"t":2014,"a":22,"b":-12,"c":-36},{"t":2014.025,"a":18,"b":-16,"c":-39},
          {"t":2014.05,"a":15,"b":-19,"c":-42},{"t":2014.075,"a":20,"b":-13,"c":-40},
          {"t":2014.1,"a":25,"b":-8,"c":-38},{"t":2014.125,"a":21,"b":-12,"c":-35},
          {"t":2014.15,"a":18,"b":-15,"c":-33},{"t":2014.175,"a":19,"b":-9,"c":-37},
          {"t":2014.2,"a":20,"b":-3,"c":-40},{"t":2014.225,"a":17,"b":-7,"c":-37},
          {"t":2014.25,"a":14,"b":-10,"c":-35},{"t":2014.275,"a":19,"b":-12,"c":-40},
          {"t":2014.3,"a":23,"b":-14,"c":-44},{"t":2014.325,"a":19,"b":-10,"c":-40},
          {"t":2014.35,"a":16,"b":-6,"c":-37},{"t":2014.375,"a":19,"b":-9,"c":-35},
          {"t":2014.4,"a":22,"b":-11,"c":-33},{"t":2014.425,"a":20,"b":-9,"c":-36},
          {"t":2014.45,"a":18,"b":-8,"c":-39},{"t":2014.475,"a":21,"b":-11,"c":-37},
          {"t":2014.5,"a":24,"b":-13,"c":-35},{"t":2014.525,"a":17,"b":-15,"c":-38},
          {"t":2014.55,"a":10,"b":-18,"c":-41},{"t":2014.575,"a":7,"b":-21,"c":-39},
          {"t":2014.6,"a":5,"b":-24,"c":-38},{"t":2014.625,"a":7,"b":-26,"c":-36},
          {"t":2014.65,"a":8,"b":-28,"c":-34},{"t":2014.675,"a":5,"b":-29,"c":-38},
          {"t":2014.7,"a":2,"b":-31,"c":-43},{"t":2014.725,"a":0,"b":-36,"c":-45},
          {"t":2014.75,"a":-3,"b":-40,"c":-46},{"t":2014.775,"a":-5,"b":-42,"c":-47},
          {"t":2014.8,"a":-8,"b":-44,"c":-48},{"t":2014.825,"a":-4,"b":-43,"c":-46},
          {"t":2014.85,"a":-1,"b":-42,"c":-44},{"t":2014.875,"a":-7,"b":-44,"c":-47},
          {"t":2014.9,"a":-13,"b":-46,"c":-50},{"t":2014.925,"a":-11,"b":-43,"c":-48},
          {"t":2014.95,"a":-10,"b":-41,"c":-47},{"t":2014.975,"a":-16,"b":-43,"c":-49},
          {"t":2015,"a":-22,"b":-44,"c":-51},{"t":2015.025,"a":-25,"b":-42,"c":-53},
          {"t":2015.05,"a":-28,"b":-40,"c":-54},{"t":2015.075,"a":-26,"b":-43,"c":-53},
          {"t":2015.1,"a":-25,"b":-46,"c":-52},{"t":2015.125,"a":-28,"b":-44,"c":-55},
          {"t":2015.15,"a":-31,"b":-42,"c":-57},{"t":2015.175,"a":-27,"b":-40,"c":-56},
          {"t":2015.2,"a":-24,"b":-38,"c":-55},{"t":2015.225,"a":-26,"b":-42,"c":-58},
          {"t":2015.25,"a":-29,"b":-45,"c":-60},{"t":2015.275,"a":-28,"b":-43,"c":-58},
          {"t":2015.3,"a":-27,"b":-41,"c":-56},{"t":2015.325,"a":-30,"b":-40,"c":-57},
          {"t":2015.35,"a":-33,"b":-39,"c":-58},{"t":2015.375,"a":-36,"b":-43,"c":-56},
          {"t":2015.4,"a":-38,"b":-46,"c":-54},{"t":2015.425,"a":-36,"b":-44,"c":-57},
          {"t":2015.45,"a":-35,"b":-43,"c":-59},{"t":2015.475,"a":-38,"b":-38,"c":-57},
          {"t":2015.5,"a":-41,"b":-33,"c":-55},{"t":2015.525,"a":-39,"b":-31,"c":-56},
          {"t":2015.55,"a":-37,"b":-30,"c":-57},{"t":2015.575,"a":-34,"b":-33,"c":-55},
          {"t":2015.6,"a":-32,"b":-36,"c":-53},{"t":2015.625,"a":-36,"b":-32,"c":-55},
          {"t":2015.65,"a":-40,"b":-28,"c":-56},{"t":2015.675,"a":-38,"b":-35,"c":-54},
          {"t":2015.7,"a":-36,"b":-42,"c":-52},{"t":2015.725,"a":-37,"b":-45,"c":-50},
          {"t":2015.75,"a":-39,"b":-48,"c":-48},{"t":2015.775,"a":-34,"b":-50,"c":-46},
          {"t":2015.8,"a":-30,"b":-51,"c":-44},{"t":2015.825,"a":-32,"b":-48,"c":-42},
          {"t":2015.85,"a":-34,"b":-45,"c":-40},{"t":2015.875,"a":-36,"b":-46,"c":-38},
          {"t":2015.9,"a":-38,"b":-47,"c":-36},{"t":2015.925,"a":-33,"b":-44,"c":-34},
          {"t":2015.95,"a":-29,"b":-41,"c":-33},{"t":2015.975,"a":-32,"b":-35,"c":-30},
          {"t":2016,"a":-35,"b":-30,"c":-28},{"t":2016.025,"a":-33,"b":-32,"c":-24},
          {"t":2016.05,"a":-31,"b":-33,"c":-21},{"t":2016.075,"a":-35,"b":-30,"c":-24},
          {"t":2016.1,"a":-38,"b":-28,"c":-26},{"t":2016.125,"a":-40,"b":-30,"c":-25},
          {"t":2016.15,"a":-42,"b":-31,"c":-23},{"t":2016.175,"a":-45,"b":-30,"c":-26},
          {"t":2016.2,"a":-48,"b":-29,"c":-28},{"t":2016.225,"a":-50,"b":-27,"c":-29},
          {"t":2016.25,"a":-52,"b":-25,"c":-30},{"t":2016.275,"a":-49,"b":-27,"c":-32},
          {"t":2016.3,"a":-46,"b":-28,"c":-33},{"t":2016.325,"a":-50,"b":-25,"c":-30},
          {"t":2016.35,"a":-54,"b":-23,"c":-27},{"t":2016.375,"a":-52,"b":-25,"c":-31},
          {"t":2016.4,"a":-50,"b":-26,"c":-35},{"t":2016.425,"a":-47,"b":-25,"c":-32},
          {"t":2016.45,"a":-44,"b":-24,"c":-29},{"t":2016.475,"a":-40,"b":-26,"c":-31},
          {"t":2016.5,"a":-36,"b":-27,"c":-32},{"t":2016.525,"a":-33,"b":-25,"c":-31},
          {"t":2016.55,"a":-30,"b":-24,"c":-30},{"t":2016.575,"a":-28,"b":-23,"c":0},
          {"t":2016.6,"a":-26,"b":-22,"c":0},{"t":2016.625,"a":-20,"b":-24,"c":0},
          {"t":2016.65,"a":-15,"b":-26,"c":0},{"t":2016.675,"a":-11,"b":-28,"c":0},
          {"t":2016.7,"a":-8,"b":-30,"c":0},{"t":2016.725,"a":-5,"b":-29,"c":0},
          {"t":2016.75,"a":-2,"b":-28,"c":0},{"t":2016.775,"a":-7,"b":-31,"c":0},
          {"t":2016.8,"a":-12,"b":-34,"c":0},{"t":2016.825,"a":-9,"b":-32,"c":0},
          {"t":2016.85,"a":-6,"b":-31,"c":0},{"t":2016.875,"a":-12,"b":-34,"c":0},
          {"t":2016.9,"a":-18,"b":-37,"c":0},{"t":2016.925,"a":-16,"b":-36,"c":0},
          {"t":2016.95,"a":-14,"b":-35,"c":0},{"t":2016.975,"a":-17,"b":-36,"c":0},
          {"t":2017,"a":-20,"b":-38,"c":0},{"t":2017.025,"a":-14,"b":-37,"c":0},
          {"t":2017.05,"a":-9,"b":-36,"c":0},{"t":2017.075,"a":-12,"b":-39,"c":0},
          {"t":2017.1,"a":-16,"b":-41,"c":0},{"t":2017.125,"a":-21,"b":-37,"c":0},
          {"t":2017.15,"a":-25,"b":-34,"c":0},{"t":2017.175,"a":-18,"b":-37,"c":0},
          {"t":2017.2,"a":-12,"b":-39,"c":0},{"t":2017.225,"a":-15,"b":-38,"c":0},
          {"t":2017.25,"a":-17,"b":-37,"c":0},{"t":2017.275,"a":-13,"b":-36,"c":0},
          {"t":2017.3,"a":-9,"b":-35,"c":0},{"t":2017.325,"a":-11,"b":-39,"c":0},
          {"t":2017.35,"a":-14,"b":-42,"c":0},{"t":2017.375,"a":-16,"b":-40,"c":0},
          {"t":2017.4,"a":-19,"b":-38,"c":0},{"t":2017.425,"a":-22,"b":-41,"c":0},
          {"t":2017.45,"a":-24,"b":-43,"c":0},{"t":2017.475,"a":-27,"b":-40,"c":0},
          {"t":2017.5,"a":-29,"b":-36,"c":0},{"t":2017.525,"a":-25,"b":-38,"c":0},
          {"t":2017.55,"a":-22,"b":-40,"c":0},{"t":2017.575,"a":-28,"b":-37,"c":0},
          {"t":2017.6,"a":-33,"b":-35,"c":0},{"t":2017.625,"a":-30,"b":-39,"c":0},
          {"t":2017.65,"a":-27,"b":-42,"c":0},{"t":2017.675,"a":-29,"b":-41,"c":0},
          {"t":2017.7,"a":-30,"b":-39,"c":0},{"t":2017.725,"a":-34,"b":-43,"c":0},
          {"t":2017.75,"a":-38,"b":-47,"c":0},{"t":2017.775,"a":-40,"b":-49,"c":0},
          {"t":2017.8,"a":-42,"b":-50,"c":0},{"t":2017.825,"a":-39,"b":-48,"c":0},
          {"t":2017.85,"a":-37,"b":-46,"c":0},{"t":2017.875,"a":-41,"b":-49,"c":0},
          {"t":2017.9,"a":-44,"b":-52,"c":0},{"t":2017.925,"a":-42,"b":-51,"c":0},
          {"t":2017.95,"a":-40,"b":-49,"c":0},{"t":2017.975,"a":-43,"b":-50,"c":0},
          {"t":2018,"a":-45,"b":-51,"c":0},{"t":2018.025,"a":-43,"b":-53,"c":0},
          {"t":2018.05,"a":-41,"b":-54,"c":0},{"t":2018.075,"a":-44,"b":-51,"c":0},
          {"t":2018.1,"a":-46,"b":-48,"c":0},{"t":2018.125,"a":-44,"b":-51,"c":0},
          {"t":2018.15,"a":-43,"b":-53,"c":0},{"t":2018.175,"a":-40,"b":-52,"c":0},
          {"t":2018.2,"a":-38,"b":-50,"c":0},{"t":2018.225,"a":-41,"b":-52,"c":0},
          {"t":2018.25,"a":-44,"b":-54,"c":0},{"t":2018.275,"a":-45,"b":-53,"c":0},
          {"t":2018.3,"a":-46,"b":-52,"c":0},{"t":2018.325,"a":-43,"b":-54,"c":0},
          {"t":2018.35,"a":-40,"b":-56,"c":0},{"t":2018.375,"a":-37,"b":-57,"c":0},
          {"t":2018.4,"a":-34,"b":-58,"c":0},{"t":2018.425,"a":-32,"b":-59,"c":0},
          {"t":2018.45,"a":-30,"b":-61,"c":0},{"t":2018.475,"a":-36,"b":-59,"c":0},
          {"t":2018.5,"a":-41,"b":-57,"c":0},{"t":2018.525,"a":-38,"b":-58,"c":0},
          {"t":2018.55,"a":-36,"b":-60,"c":0},{"t":2018.575,"a":-34,"b":-58,"c":0},
          {"t":2018.6,"a":-32,"b":-55,"c":0},{"t":2018.625,"a":-35,"b":-57,"c":0},
          {"t":2018.65,"a":-38,"b":-59,"c":0},{"t":2018.675,"a":-40,"b":-56,"c":0},
          {"t":2018.7,"a":-41,"b":-54,"c":0},{"t":2018.725,"a":-44,"b":-52,"c":0},
          {"t":2018.75,"a":-46,"b":-51,"c":0},{"t":2018.775,"a":-48,"b":-54,"c":0},
          {"t":2018.8,"a":-50,"b":-56,"c":0},{"t":2018.825,"a":-48,"b":-55,"c":0},
          {"t":2018.85,"a":-47,"b":-53,"c":0},{"t":2018.875,"a":-48,"b":-54,"c":0},
          {"t":2018.9,"a":-49,"b":-55,"c":0},{"t":2018.925,"a":-41,"b":-52,"c":0},
          {"t":2018.95,"a":-33,"b":-48,"c":0},{"t":2018.975,"a":-31,"b":-42,"c":0},
          {"t":2019,"a":-30,"b":-36,"c":0},{"t":2019.025,"a":-28,"b":-33,"c":0},
          {"t":2019.05,"a":-26,"b":-30,"c":0},{"t":2019.075,"a":-30,"b":-31,"c":0},
          {"t":2019.1,"a":-33,"b":-33,"c":0},{"t":2019.125,"a":-26,"b":-27,"c":0},
          {"t":2019.15,"a":-20,"b":-21,"c":0},{"t":2019.175,"a":-16,"b":-19,"c":0},
          {"t":2019.2,"a":-12,"b":-17,"c":0},{"t":2019.225,"a":-10,"b":-14,"c":0},
          {"t":2019.25,"a":-8,"b":-11,"c":0},{"t":2019.275,"a":-5,"b":-15,"c":0},
          {"t":2019.3,"a":-3,"b":-19,"c":0},{"t":2019.325,"a":-5,"b":-16,"c":0},
          {"t":2019.35,"a":-6,"b":-14,"c":0},{"t":2019.375,"a":-4,"b":-10,"c":0},
          {"t":2019.4,"a":-2,"b":-6,"c":0},{"t":2019.425,"a":-6,"b":-2,"c":0},
          {"t":2019.45,"a":-9,"b":3,"c":0},{"t":2019.475,"a":-2,"b":-1,"c":0},
          {"t":2019.5,"a":4,"b":-4,"c":0},{"t":2019.525,"a":6,"b":-1,"c":0},
          {"t":2019.55,"a":8,"b":2,"c":0},{"t":2019.575,"a":10,"b":0,"c":0},
          {"t":2019.6,"a":11,"b":0,"c":0},{"t":2019.625,"a":8,"b":0,"c":0},
          {"t":2019.65,"a":6,"b":0,"c":0},{"t":2019.675,"a":10,"b":0,"c":0},
          {"t":2019.7,"a":15,"b":0,"c":0},{"t":2019.725,"a":19,"b":0,"c":0},
          {"t":2019.75,"a":22,"b":0,"c":0},{"t":2019.775,"a":18,"b":0,"c":0},
          {"t":2019.8,"a":14,"b":0,"c":0},{"t":2019.825,"a":21,"b":0,"c":0},
          {"t":2019.85,"a":28,"b":0,"c":0},{"t":2019.875,"a":23,"b":0,"c":0},
          {"t":2019.9,"a":18,"b":0,"c":0},{"t":2019.925,"a":22,"b":0,"c":0},
          {"t":2019.95,"a":25,"b":0,"c":0},{"t":2019.975,"a":23,"b":0,"c":0},
          {"t":2020,"a":20,"b":0,"c":0},{"t":2020.025,"a":17,"b":0,"c":0},
          {"t":2020.05,"a":14,"b":0,"c":0},{"t":2020.075,"a":11,"b":0,"c":0},
          {"t":2020.1,"a":8,"b":0,"c":0},{"t":2020.125,"a":5,"b":0,"c":0},
          {"t":2020.15,"a":2,"b":0,"c":0},{"t":2020.175,"a":16,"b":0,"c":0},
          {"t":2020.2,"a":50,"b":0,"c":0},{"t":2020.225,"a":22,"b":0,"c":0},
          {"t":2020.25,"a":18,"b":0,"c":0},{"t":2020.275,"a":22,"b":0,"c":0},
          {"t":2020.3,"a":25,"b":0,"c":0},{"t":2020.325,"a":27,"b":0,"c":0},
          {"t":2020.35,"a":29,"b":0,"c":0},{"t":2020.375,"a":25,"b":0,"c":0},
          {"t":2020.4,"a":21,"b":0,"c":0},{"t":2020.425,"a":24,"b":0,"c":0},
          {"t":2020.45,"a":26,"b":0,"c":0},{"t":2020.475,"a":20,"b":0,"c":0},
          {"t":2020.5,"a":14,"b":0,"c":0},{"t":2020.525,"a":9,"b":0,"c":0},
          {"t":2020.55,"a":6,"b":0,"c":0},{"t":2020.575,"a":4,"b":0,"c":0},
          {"t":2020.6,"a":2,"b":0,"c":0},{"t":2020.625,"a":-3,"b":0,"c":0},
          {"t":2020.65,"a":-8,"b":0,"c":0},{"t":2020.675,"a":-12,"b":0,"c":0},
          {"t":2020.7,"a":-17,"b":0,"c":0},{"t":2020.725,"a":-26,"b":0,"c":0},
          {"t":2020.75,"a":-35,"b":0,"c":0},{"t":2020.775,"a":-38,"b":0,"c":0},
          {"t":2020.8,"a":-40,"b":0,"c":0},{"t":2020.825,"a":-42,"b":0,"c":0},
          {"t":2020.85,"a":-44,"b":0,"c":0},{"t":2020.875,"a":-41,"b":0,"c":0},
          {"t":2020.9,"a":-38,"b":0,"c":0},{"t":2020.925,"a":-42,"b":0,"c":0},
          {"t":2020.95,"a":-46,"b":0,"c":0},{"t":2020.975,"a":-38,"b":0,"c":0},
          {"t":2021,"a":-30,"b":0,"c":0},{"t":2021.025,"a":-33,"b":0,"c":0},
          {"t":2021.05,"a":-36,"b":0,"c":0},{"t":2021.075,"a":-32,"b":0,"c":0},
          {"t":2021.1,"a":-28,"b":0,"c":0},{"t":2021.125,"a":-31,"b":0,"c":0},
          {"t":2021.15,"a":-33,"b":0,"c":0},{"t":2021.175,"a":-36,"b":0,"c":0},
          {"t":2021.2,"a":-38,"b":0,"c":0},{"t":2021.225,"a":-41,"b":0,"c":0},
          {"t":2021.25,"a":-44,"b":0,"c":0},{"t":2021.275,"a":-46,"b":0,"c":0},
          {"t":2021.3,"a":-48,"b":0,"c":0},{"t":2021.325,"a":-45,"b":0,"c":0},
          {"t":2021.35,"a":-42,"b":0,"c":0},{"t":2021.375,"a":-46,"b":0,"c":0},
          {"t":2021.4,"a":-50,"b":0,"c":0},{"t":2021.425,"a":-48,"b":0,"c":0},
          {"t":2021.45,"a":-46,"b":0,"c":0},{"t":2021.475,"a":-43,"b":0,"c":0},
          {"t":2021.5,"a":-40,"b":0,"c":0},{"t":2021.525,"a":-38,"b":0,"c":0},
          {"t":2021.55,"a":-37,"b":0,"c":0},{"t":2021.575,"a":-35,"b":0,"c":0},
          {"t":2021.6,"a":-34,"b":0,"c":0},{"t":2021.625,"a":-36,"b":0,"c":0},
          {"t":2021.65,"a":-38,"b":0,"c":0},{"t":2021.675,"a":-34,"b":0,"c":0},
          {"t":2021.7,"a":-31,"b":0,"c":0},{"t":2021.725,"a":-29,"b":0,"c":0},
          {"t":2021.75,"a":-27,"b":0,"c":0},{"t":2021.775,"a":-25,"b":0,"c":0},
          {"t":2021.8,"a":-24,"b":0,"c":0},{"t":2021.825,"a":-22,"b":0,"c":0},
          {"t":2021.85,"a":-21,"b":0,"c":0},{"t":2021.875,"a":-19,"b":0,"c":0},
          {"t":2021.9,"a":-18,"b":0,"c":0},{"t":2021.925,"a":-17,"b":0,"c":0},
          {"t":2021.95,"a":-16,"b":0,"c":0},{"t":2021.975,"a":-19,"b":0,"c":0},
          {"t":2022,"a":-22,"b":0,"c":0},{"t":2022.025,"a":-18,"b":0,"c":0},
          {"t":2022.05,"a":-14,"b":0,"c":0},{"t":2022.075,"a":-4,"b":0,"c":0},
          {"t":2022.1,"a":6,"b":0,"c":0},{"t":2022.125,"a":9,"b":0,"c":0},
          {"t":2022.15,"a":12,"b":0,"c":0},{"t":2022.175,"a":15,"b":0,"c":0},
          {"t":2022.2,"a":18,"b":0,"c":0},{"t":2022.225,"a":21,"b":0,"c":0},
          {"t":2022.25,"a":24,"b":0,"c":0},{"t":2022.275,"a":20,"b":0,"c":0},
          {"t":2022.3,"a":16,"b":0,"c":0},{"t":2022.325,"a":18,"b":0,"c":0},
          {"t":2022.35,"a":19,"b":0,"c":0},{"t":2022.375,"a":8,"b":0,"c":0},
          {"t":2022.4,"a":-4,"b":0,"c":0},{"t":2022.425,"a":-8,"b":0,"c":0},
          {"t":2022.45,"a":-12,"b":0,"c":0},{"t":2022.475,"a":-10,"b":0,"c":0},
          {"t":2022.5,"a":-7,"b":0,"c":0},{"t":2022.525,"a":-3,"b":0,"c":0},
          {"t":2022.55,"a":0,"b":0,"c":0},{"t":2022.575,"a":0,"b":0,"c":0},
          {"t":2022.6,"a":0,"b":0,"c":0},{"t":2022.625,"a":0,"b":0,"c":0},
          {"t":2022.65,"a":0,"b":0,"c":0},{"t":2022.675,"a":0,"b":0,"c":0},
          {"t":2022.7,"a":0,"b":0,"c":0},{"t":2022.725,"a":0,"b":0,"c":0},
          {"t":2022.75,"a":0,"b":0,"c":0},{"t":2022.775,"a":0,"b":0,"c":0},
          {"t":2022.8,"a":0,"b":0,"c":0},{"t":2022.825,"a":0,"b":0,"c":0},
          {"t":2022.85,"a":0,"b":0,"c":0},{"t":2022.875,"a":0,"b":0,"c":0},
          {"t":2022.9,"a":0,"b":0,"c":0},{"t":2022.925,"a":0,"b":0,"c":0},
          {"t":2022.95,"a":0,"b":0,"c":0},{"t":2022.975,"a":0,"b":0,"c":0},
          {"t":2023,"a":0,"b":0,"c":0}
        ]
      },
      "transform": [{"fold": ["a", "b", "c"], "as": ["s", "v"]}],
      "mark": {"type": "point", "filled": false, "opacity": 1},
      "encoding": {
        "x": {
          "field": "t",
          "type": "quantitative",
          "scale": {"domain": [1997, 2023.01], "nice": false, "zero": false},
          "axis": {
            "values": [1997, 1999, 2001, 2003, 2005, 2007, 2009, 2011, 2013, 2015, 2017, 2019, 2021],
            "labelExpr": "'01/01/' + datum.value",
            "title": null,
            "grid": true,
            "gridColor": "#D9D9D9",
            "gridWidth": 2,
            "domain": false,
            "ticks": false,
            "labelPadding": 24,
            "labelFont": "Liberation Sans",
            "labelFontSize": 22,
            "labelColor": "#595959",
            "labelFlush": false,
            "labelOverlap": false
          }
        },
        "y": {
          "field": "v",
          "type": "quantitative",
          "scale": {"domain": [-100, 250], "nice": false},
          "axis": {
            "values": [-100, -50, 0, 50, 100, 150, 200, 250],
            "labelExpr": "datum.value < 0 ? '- ' + abs(datum.value) + '%' : datum.value + '%'",
            "title": null,
            "grid": true,
            "gridColor": "#D9D9D9",
            "gridWidth": 2,
            "domain": false,
            "ticks": false,
            "labelPadding": 19,
            "labelFont": "Liberation Sans",
            "labelFontSize": 21,
            "labelColor": "#595959",
            "labelFlush": false,
            "labelOverlap": false
          }
        },
        "color": {
          "field": "s",
          "type": "nominal",
          "scale": {"domain": ["a", "b", "c", "z"], "range": ["#FFC000", "#0070C0", "#FF0000", "#000000"]},
          "legend": {
            "orient": "none",
            "legendX": 1711,
            "legendY": 90,
            "title": null,
            "fillColor": "#FFFFFF",
            "padding": 16,
            "rowPadding": 39,
            "symbolOffset": 29,
            "labelOffset": 10,
            "labelLimit": 400,
            "labelFont": "Liberation Sans",
            "labelFontSize": 25,
            "labelColor": "#595959",
            "labelExpr": "datum.value == 'a' ? 'Rendement_A04' : datum.value == 'b' ? 'Rendement_A07' : datum.value == 'c' ? 'Rendement_A10' : '0,0%'"
          }
        },
        "shape": {
          "field": "s",
          "type": "nominal",
          "scale": {"domain": ["a", "b", "c", "z"], "range": ["M-1,0H1M0,-1V1", "M-1,0H1M0,-1V1", "M-1,0H1M0,-1V1", "M-1.6,0H1.6"]}
        },
        "size": {
          "field": "s",
          "type": "nominal",
          "scale": {"type": "ordinal", "domain": ["a", "b", "c", "z"], "range": [110, 81, 81, 900]}
        },
        "strokeWidth": {
          "field": "s",
          "type": "nominal",
          "scale": {"type": "ordinal", "domain": ["a", "b", "c", "z"], "range": [2, 3.2, 3.2, 5.5]}
        },
        "order": {"field": "s", "type": "ordinal"}
      }
    },
    {
      "data": {"values": [{"t": 1997, "v": 0, "s": "z"}, {"t": 2016.6, "v": 0, "s": "z"}]},
      "mark": {"type": "line", "strokeWidth": 5.5},
      "encoding": {
        "x": {"field": "t", "type": "quantitative"},
        "y": {"field": "v", "type": "quantitative"},
        "color": {"field": "s", "type": "nominal", "scale": {"domain": ["a", "b", "c", "z"], "range": ["#FFC000", "#0070C0", "#FF0000", "#000000"]}}
      }
    },
    {
      "data": {"values": [{}]},
      "mark": {
        "type": "text",
        "text": "ADAM Informe. Evolution historique des performances en euros pour des détentions de 4 ans (A04) à 10 ans (A10) avec les revenus connus capitalisés",
        "font": "Liberation Sans",
        "fontWeight": "bold",
        "fontSize": 28.5,
        "color": "#000000",
        "align": "center",
        "baseline": "alphabetic"
      },
      "encoding": {
        "x": {"datum": 2009.387, "type": "quantitative"},
        "y": {"datum": 273.76, "type": "quantitative"}
      }
    },
    {
      "data": {"values": [{}]},
      "mark": {
        "type": "text",
        "text": [
          "Performance par rapport à l'indice S&P 500 INDEX GROSS TR  du placement FedEx Corp en fonction de la date de début pour des durées",
          "entre 4 (A04) et 10 ans (A10). Cotations entre janv. 1997 et juil. 2026. Revenus CAPITALISES depuis juin. 2002."
        ],
        "font": "Liberation Sans",
        "fontSize": 26,
        "lineHeight": 43,
        "color": "#595959",
        "align": "center",
        "baseline": "alphabetic"
      },
      "encoding": {
        "x": {"datum": 2009.83, "type": "quantitative"},
        "y": {"datum": 247.1, "type": "quantitative"}
      }
    }
  ]
}
